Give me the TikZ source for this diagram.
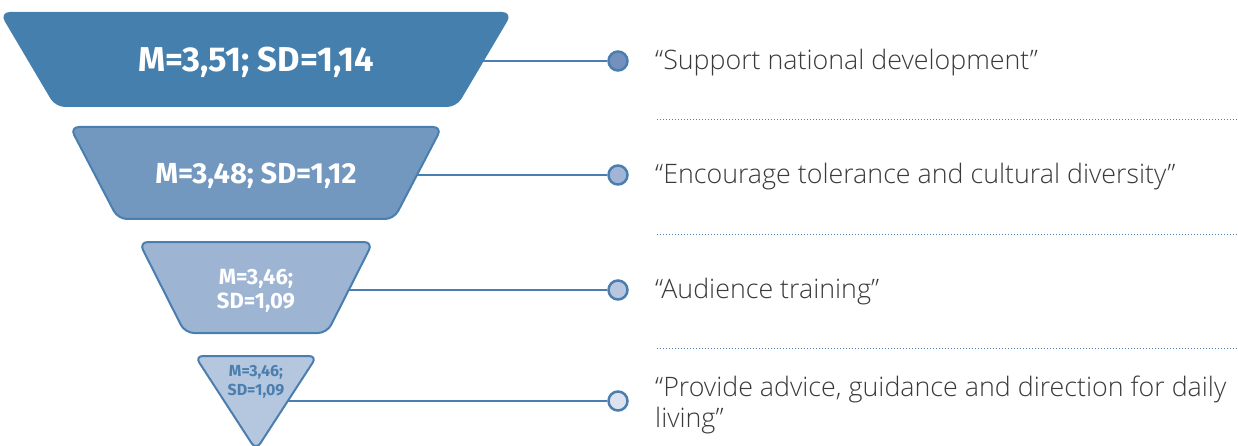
\documentclass[tikz,border=0pt]{standalone}
\usepackage{fontspec}
\IfFontExistsTF{Open Sans Light}{\setmainfont{Open Sans Light}}{\setmainfont{Open Sans}}
\newfontfamily\numfont{Fira Sans}
\definecolor{lineblue}{HTML}{4A7EAE}
\definecolor{fA}{HTML}{457FAD}
\definecolor{fB}{HTML}{7398C0}
\definecolor{fC}{HTML}{9EB4D3}
\definecolor{fD}{HTML}{B5C6DF}
\definecolor{dA}{HTML}{7491BE}
\definecolor{dB}{HTML}{A2B5D6}
\definecolor{dC}{HTML}{B8C7DF}
\definecolor{dD}{HTML}{DDE3EE}
\definecolor{labgray}{HTML}{3A3A3A}
\begin{document}
\begin{tikzpicture}[x=1pt,y=-1pt,
  link/.style={draw=lineblue, line width=2pt},
  dot/.style={circle, draw=lineblue, line width=2.5pt, minimum size=19pt, inner sep=0pt},
  lab/.style={anchor=west, text=labgray, font=\fontsize{26.8}{31}\selectfont, inner sep=0pt, align=left},
  sep/.style={draw=lineblue, dotted, line width=1pt},
  funnel/.style={draw=lineblue, line width=2pt, rounded corners=9pt},
  val/.style={text=white, align=center, inner sep=0pt}]
\useasboundingbox (0,0) rectangle (1238,446);
% shapes
\draw[funnel, fill=fA, draw=fA] (256,13) -- (511,13) -- (456,106) -- (56,106) -- (1,13) -- cycle;
\draw[funnel, fill=fB] (256,127) -- (442,127) -- (394,219) -- (118,219) -- (70,127) -- cycle;
\draw[funnel, fill=fC] (256,242) -- (373,242) -- (327,333) -- (185,333) -- (139,242) -- cycle;
\draw[funnel, fill=fD, rounded corners=8pt] (256,356) -- (317,356) -- (256,450) -- (195,356) -- cycle;
% values
\node[val, font=\numfont\bfseries\fontsize{34.5}{40}\selectfont] (v1) at (256,62) {M=3,51; SD=1,14};
\node[val, font=\numfont\bfseries\fontsize{29}{34}\selectfont] (v2) at (256,176) {M=3,48; SD=1,12};
\node[val, font=\numfont\bfseries\fontsize{22}{24}\selectfont] (v3) at (256,291) {M=3,46;\\SD=1,09};
\node[val, text=lineblue, font=\numfont\bfseries\fontsize{16}{18.5}\selectfont] (v4) at (256,382) {M=3,46;\\SD=1,09};
% edge points
\coordinate (e1) at (483,61);
\coordinate (e2) at (417,175);
\coordinate (e3) at (349,290);
\coordinate (e4) at (287,401);
% dots
\node[dot, fill=dA] (c1) at (618,61) {};
\node[dot, fill=dB] (c2) at (618,175) {};
\node[dot, fill=dC] (c3) at (618,290) {};
\node[dot, fill=dD] (c4) at (618,401) {};
\draw[link] (e1) -- (c1);
\draw[link] (e2) -- (c2);
\draw[link] (e3) -- (c3);
\draw[link] (e4) -- (c4);
% labels
\node[lab] (l1) at (655,63) {“Support national development”};
\node[lab] (l2) at (655,177) {“Encourage tolerance and cultural diversity”};
\node[lab] (l3) at (655,292) {“Audience training”};
\node[lab] (l4) at (655,405) {“Provide advice, guidance and direction for daily\\living”};
% separators
\coordinate (s1a) at (657,120); \coordinate (s1b) at (1238,120);
\coordinate (s2a) at (657,235); \coordinate (s2b) at (1238,235);
\coordinate (s3a) at (657,348); \coordinate (s3b) at (1238,348);
\draw[sep] (s1a) -- (s1b);
\draw[sep] (s2a) -- (s2b);
\draw[sep] (s3a) -- (s3b);
\end{tikzpicture}
\end{document}
